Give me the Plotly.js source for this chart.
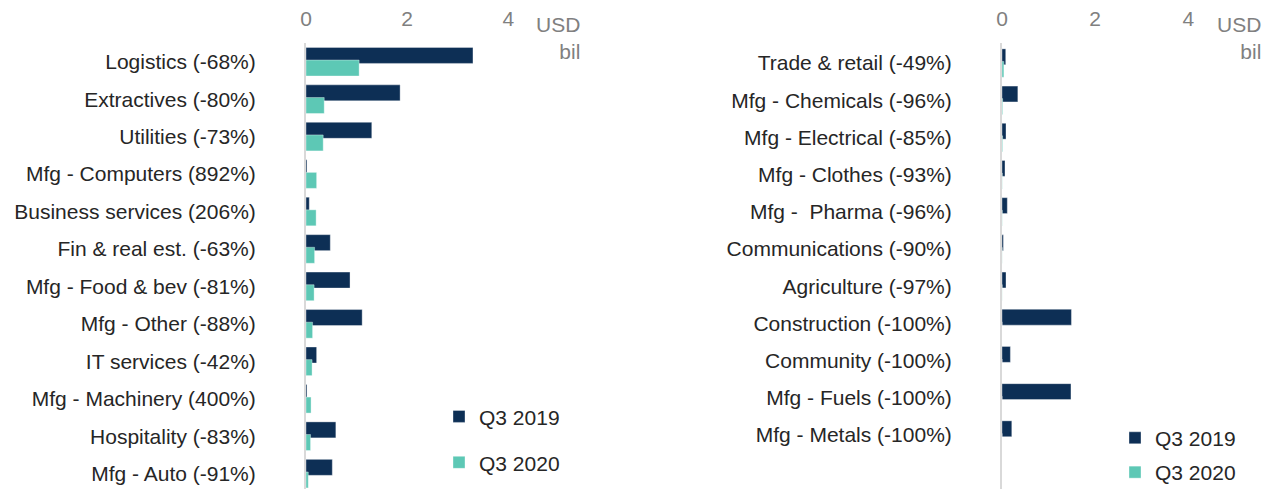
<!DOCTYPE html>
<html>
<head>
<meta charset="utf-8">
<script src="https://cdn.plot.ly/plotly-3.0.1.min.js"></script>
<style>html,body{margin:0;padding:0;background:#fff;}#chart{width:1270px;height:489px;}</style>
</head>
<body>
<div id="chart"></div>
<script>
// ---- Data ----
const leftCategories = ["Logistics (-68%)", "Extractives (-80%)", "Utilities (-73%)", "Mfg - Computers (892%)",
  "Business services (206%)", "Fin & real est. (-63%)", "Mfg - Food & bev (-81%)", "Mfg - Other (-88%)",
  "IT services (-42%)", "Mfg - Machinery (400%)", "Hospitality (-83%)", "Mfg - Auto (-91%)"];
const left2019 = [3.30, 1.86, 1.30, 0.02, 0.065, 0.48, 0.87, 1.11, 0.21, 0.02, 0.59, 0.52];
const left2020 = [1.05, 0.36, 0.34, 0.21, 0.20, 0.17, 0.16, 0.13, 0.12, 0.10, 0.09, 0.045];

const rightCategories = ["Trade & retail (-49%)", "Mfg - Chemicals (-96%)", "Mfg - Electrical (-85%)",
  "Mfg - Clothes (-93%)", "Mfg -  Pharma (-96%)", "Communications (-90%)", "Agriculture (-97%)",
  "Construction (-100%)", "Community (-100%)", "Mfg - Fuels (-100%)", "Mfg - Metals (-100%)"];
const right2019 = [0.08, 0.34, 0.086, 0.064, 0.114, 0.03, 0.086, 1.49, 0.18, 1.48, 0.21];
const right2020 = [0.04, 0.014, 0.013, 0.0045, 0.0046, 0.003, 0.0026, 0, 0, 0, 0];

const seriesNames = ["Q3 2019", "Q3 2020"];
const tickValues = [0, 2, 4];

// ---- Styles ----
const C19 = "#0d2f55", C20 = "#5dc8b5";
const FONT = "Liberation Sans, Arial, sans-serif";
const FS = 21;
const BW = 0.427;

function bar(x, y, name, color, offset, xa, ya, legend) {
  return {
    type: "bar", orientation: "h", x: x, y: y, name: name, showlegend: true,
    marker: {color: color, line: {color: "rgba(255,255,255,0.6)", width: 0.6}},
    width: BW, offset: offset, xaxis: xa, yaxis: ya, legend: legend,
    hoverinfo: "skip"
  };
}

const data = [
  bar(left2019, leftCategories, seriesNames[0], C19, -0.382, "x", "y", "legend"),
  bar(left2020, leftCategories, seriesNames[1], C20, -0.045, "x", "y", "legend2"),
  bar(right2019, rightCategories, seriesNames[0], C19, -0.382, "x2", "y2", "legend3"),
  bar(right2020, rightCategories, seriesNames[1], C20, -0.045, "x2", "y2", "legend4")
];

const xCommon = {
  range: [0, 5], side: "top", tickvals: tickValues, ticktext: tickValues.map(String),
  showgrid: false, zeroline: false, showline: false, ticks: "", ticklabelstandoff: 12,
  automargin: false,
  tickfont: {size: FS, color: "#808080", family: FONT}, fixedrange: true
};
const yCommon = {
  type: "category", showgrid: false, zeroline: false, showline: true, automargin: false,
  linecolor: "#d9d9d9", linewidth: 2, ticks: "", ticklabelstandoff: 44,
  tickfont: {size: FS, color: "#262626", family: FONT}, fixedrange: true
};

function legendAt(x, y) {
  return {x: x, y: y, xanchor: "left", yanchor: "middle", bgcolor: "rgba(0,0,0,0)", visible: true,
    font: {size: FS, color: "#262626", family: FONT}, itemclick: false, itemdoubleclick: false};
}

const layout = {
  width: 1270, height: 489,
  margin: {l: 0, r: 0, t: 43, b: 0, autoexpand: false},
  paper_bgcolor: "#fff", plot_bgcolor: "#fff",
  barmode: "overlay", showlegend: true,
  font: {family: FONT},
  xaxis: Object.assign({}, xCommon, {domain: [306/1270, 559/1270], anchor: "y"}),
  yaxis: Object.assign({}, yCommon, {range: [11.41, -0.5], anchor: "x"}),
  xaxis2: Object.assign({}, xCommon, {domain: [1002/1270, 1235/1270], anchor: "y2"}),
  yaxis2: Object.assign({}, yCommon, {range: [11.45, -0.54], anchor: "x2"}),
  legend: legendAt(439/1270, 0.162),
  legend2: legendAt(439/1270, 0.059),
  legend3: legendAt(1115/1270, 0.114),
  legend4: legendAt(1115/1270, 0.037),
  annotations: [
    {text: "USD<br>bil", xref: "paper", yref: "paper", x: 582/1270, y: (489-11)/446,
     xanchor: "right", yanchor: "top", align: "right", showarrow: false,
     font: {size: FS, color: "#808080", family: FONT}},
    {text: "USD<br>bil", xref: "paper", yref: "paper", x: 1263/1270, y: (489-11)/446,
     xanchor: "right", yanchor: "top", align: "right", showarrow: false,
     font: {size: FS, color: "#808080", family: FONT}}
  ]
};

Plotly.newPlot("chart", data, layout, {displayModeBar: false, staticPlot: true});
</script>
</body>
</html>
